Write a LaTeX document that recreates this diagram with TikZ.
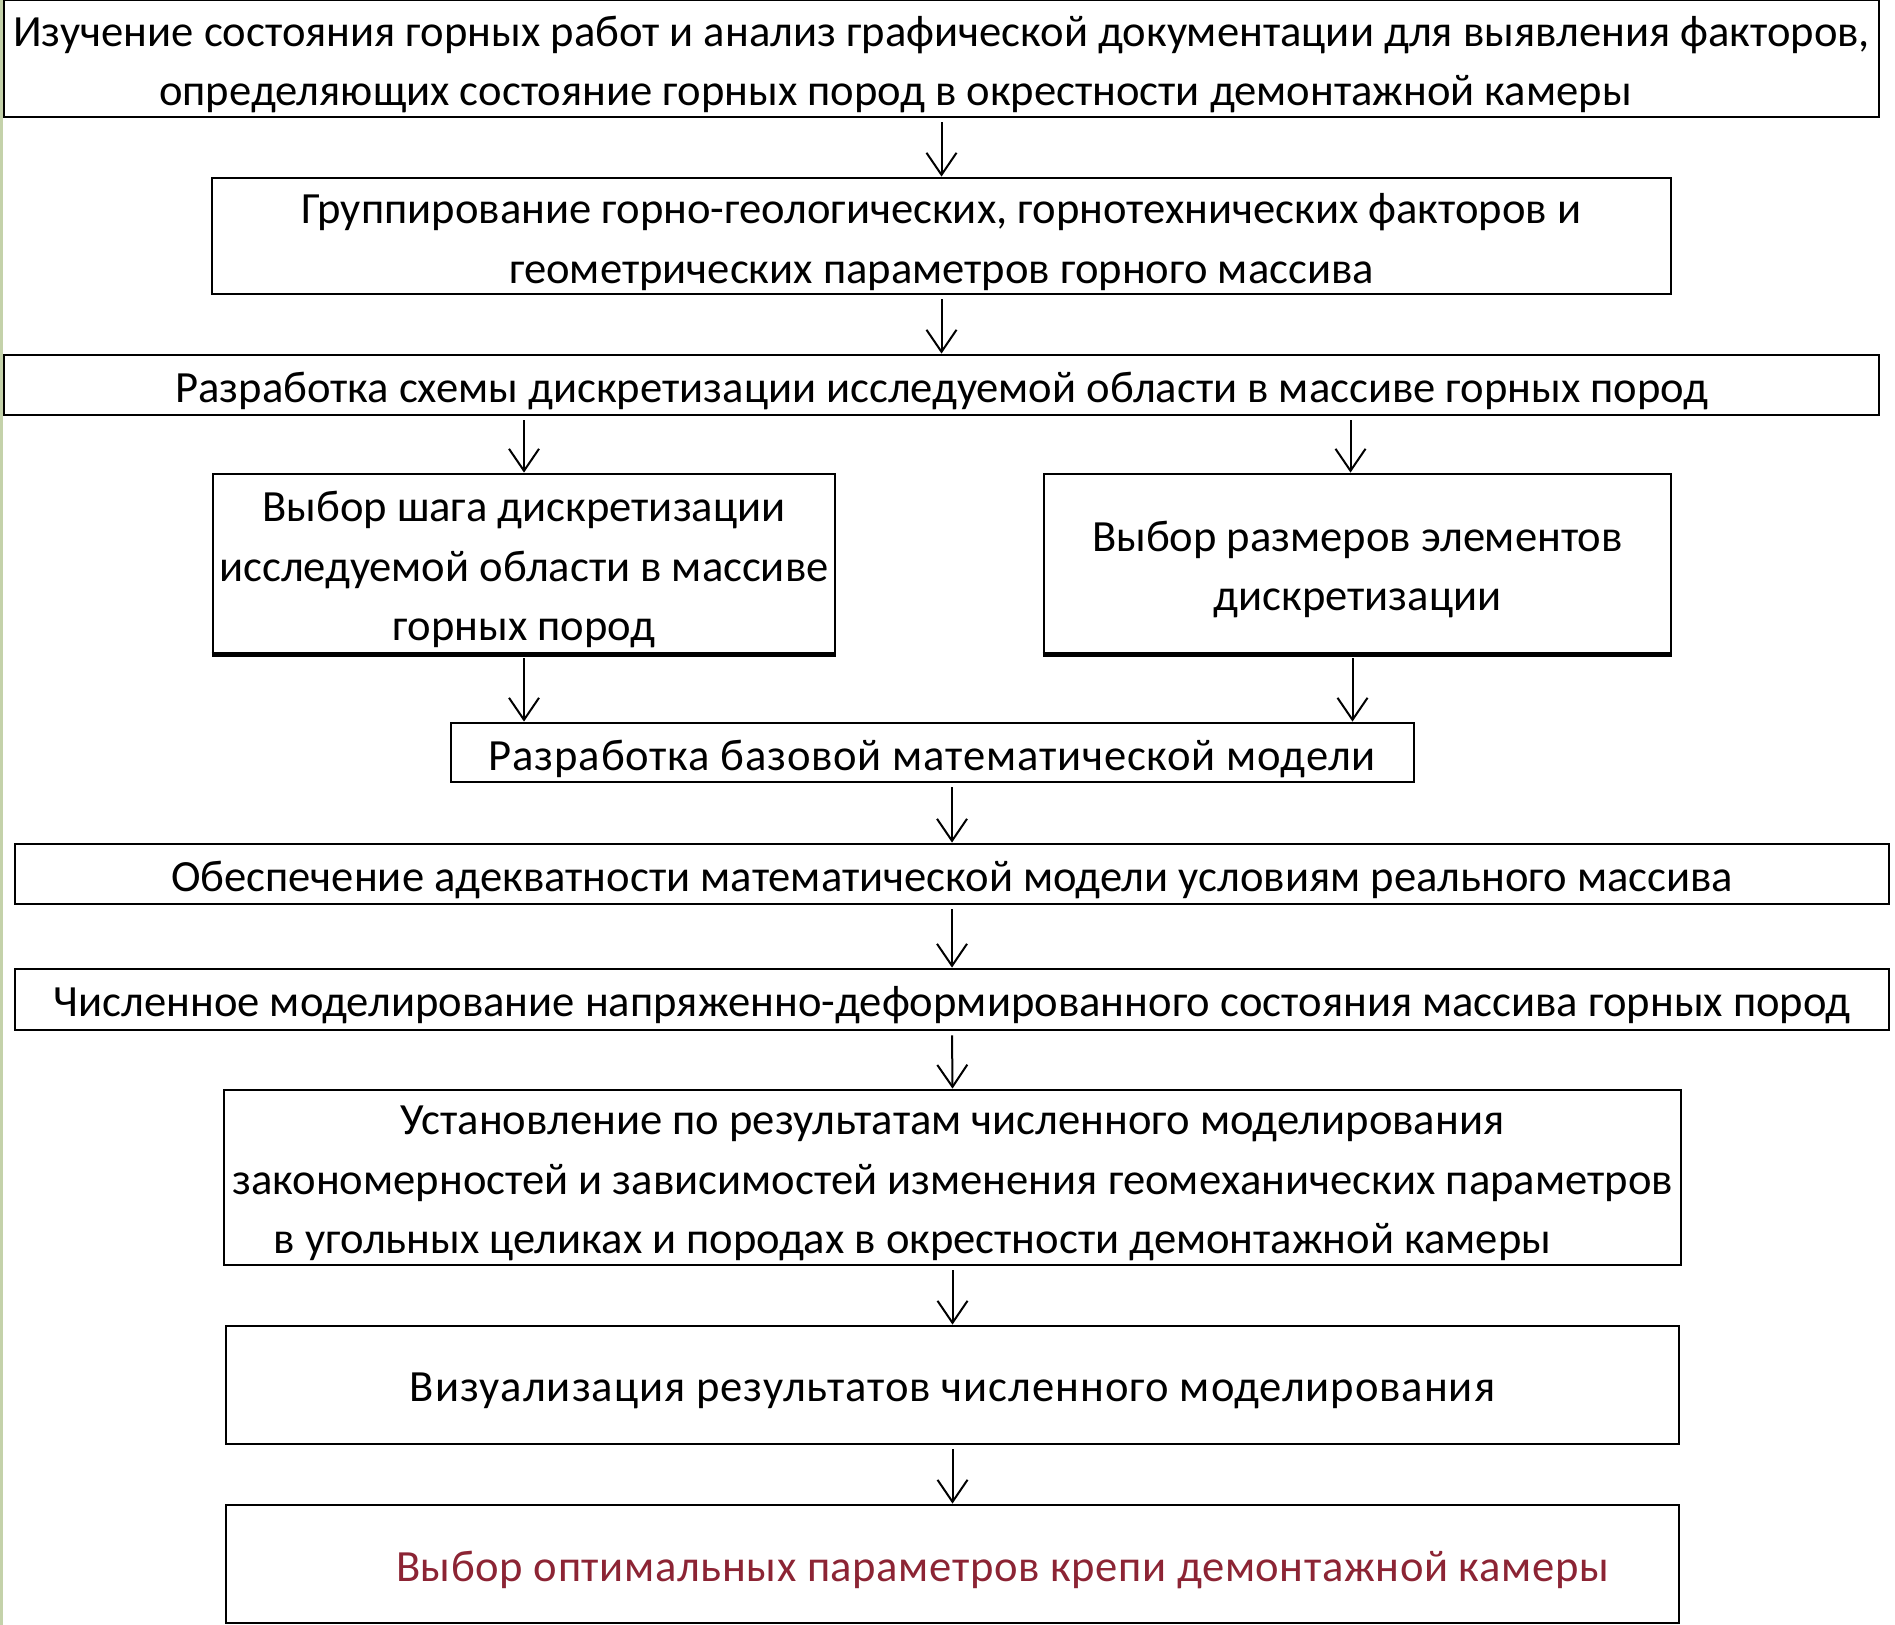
\documentclass[tikz,border=0pt]{standalone}
\usepackage{fontspec}
\setmainfont{Carlito}
\usetikzlibrary{arrows.meta,calc}
\definecolor{redtxt}{RGB}{140,36,52}
\definecolor{edgegreen}{RGB}{196,210,170}
\begin{document}
\begin{tikzpicture}[x=0.5pt,y=-0.5pt,
  box/.style={draw=black, line width=1.4pt, rectangle, inner sep=0pt},
  txt/.style={align=center, inner sep=0pt, yshift=-3pt,
    font=\fontsize{22.3pt}{29.6pt}\selectfont},
  arr/.style={draw=black, line width=1pt,
    -{Straight Barb[length=11pt,width=15pt,line width=1pt]}, shorten <=2pt}]
\useasboundingbox (0,0) rectangle (1895,1625);
\fill[white] (0,0) rectangle (1895,1625);
\fill[edgegreen] (0,0) rectangle (3,1625);

\node[box, minimum width=937.5pt, minimum height=58.5pt,
  label={[txt]center:{Изучение состояния горных работ и анализ графической документации для выявления факторов,\\
   \hspace*{-46pt}определяющих состояние горных пород в окрестности демонтажной камеры}}] (b1) at (941.5,58.5) {};
\node[box, minimum width=729.5pt, minimum height=58pt,
  label={[txt]center:{Группирование горно-геологических, горнотехнических факторов и\\
   геометрических параметров горного массива}}] (b2) at (941.5,236) {};
\node[box, minimum width=937.5pt, minimum height=30pt,
  label={[txt]center:{Разработка схемы дискретизации исследуемой области в массиве горных пород}}] (b3) at (941.5,385) {};
\node[box, minimum width=311pt, minimum height=89.5pt,
  label={[txt]center:{Выбор шага дискретизации\\ исследуемой области в массиве\\ горных пород}}] (b4) at (524,563.5) {};
\node[box, minimum width=313.5pt, minimum height=89.5pt,
  label={[txt]center:{Выбор размеров элементов\\ дискретизации}}] (b5) at (1357.5,563.5) {};
\node[box, minimum width=481.5pt, minimum height=29.5pt,
  label={[txt]center:{\addfontfeature{LetterSpace=1.8}Разработка базовой математической модели}}] (b6) at (932.5,752.5) {};
\node[box, minimum width=937pt, minimum height=30pt,
  label={[txt]center:{Обеспечение адекватности математической модели условиям реального массива}}] (b7) at (952,874) {};
\node[box, minimum width=937pt, minimum height=30.5pt,
  label={[txt]center:{Численное моделирование напряженно-деформированного состояния массива горных пород}}] (b8) at (952,999.5) {};
\node[box, minimum width=728.5pt, minimum height=87.5pt,
  label={[txt]center:{Установление по результатам численного моделирования\\
   закономерностей и зависимостей изменения геомеханических параметров\\
   \hspace*{-40pt}в угольных целиках и породах в окрестности демонтажной камеры}}] (b9) at (952.5,1177.5) {};
\node[box, minimum width=726.5pt, minimum height=59pt,
  label={[txt]center:{\addfontfeature{LetterSpace=2.1}Визуализация результатов численного моделирования}}] (b10) at (952.5,1385) {};
\node[box, minimum width=726.5pt, minimum height=59pt,
  label={[txt, text=redtxt]center:{\hspace*{50pt}\addfontfeature{LetterSpace=1.4}Выбор оптимальных параметров крепи демонтажной камеры}}] (b11) at (952.5,1564) {};

\draw[line width=2.4pt] (b4.south west) -- (b4.south east);
\draw[line width=2.4pt] (b5.south west) -- (b5.south east);

\draw[arr] (b1.south) -- (b2.north);
\draw[arr] (b2.south) -- (b3.north);
\draw[arr] (b3.south -| b4.north) -- (b4.north);
\draw[arr] ($(b3.south -| b5.north)+(-7,0)$) -- ($(b5.north)+(-7,0)$);
\draw[arr] (b4.south) -- (b4.south |- b6.north);
\draw[arr] ($(b5.south)+(-5,0)$) -- ($(b5.south |- b6.north)+(-5,0)$);
\draw[arr] (b6.south -| b7.north) -- (b7.north);
\draw[arr] (b7.south) -- (b8.north);
\draw[arr] (b8.south) -- (b9.north);
\draw[arr] (b9.south) -- (b10.north);
\draw[arr] (b10.south) -- (b11.north);
\end{tikzpicture}
\end{document}
